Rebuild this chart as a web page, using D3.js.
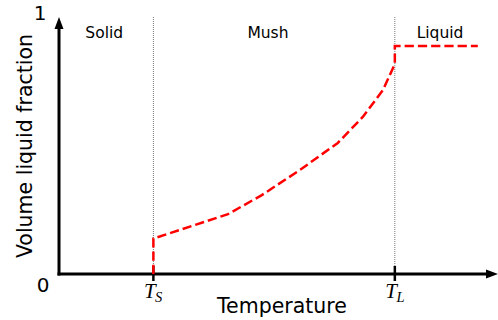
<!DOCTYPE html>
<html>
<head>
<meta charset="utf-8">
<script src="https://cdn.jsdelivr.net/npm/d3@7"></script>
<style>
  html, body { margin: 0; padding: 0; background: #fff; }
  svg { display: block; }
</style>
</head>
<body>
<script>
// ---- data ----
const temperature = [21.5, 21.5, 38.5, 46.2, 54.9, 63.5, 69.2, 73.8, 76.5, 76.5, 95.4];
const liquidFraction = [0, 0.138, 0.233, 0.307, 0.405, 0.510, 0.611, 0.716, 0.817, 0.887, 0.887];
const criticalTemps = [21.5, 76.5];
const criticalLabels = ["S", "L"];           // subscripts of T
const regionNames = ["Solid", "Mush", "Liquid"];
const regionCenters = [10.3, 47.6, 86.8];
const yTickValues = [0, 1];
const yTickLabels = ["0", "1"];

const W = 498, H = 320;
const svg = d3.select("body").append("svg").attr("width", W).attr("height", H);

const x = d3.scaleLinear().domain([0, 100]).range([59, 498]);
const y = d3.scaleLinear().domain([0, 1]).range([274, 17]);

const font = "'DejaVu Sans', sans-serif";

// dotted region boundaries
svg.selectAll("line.bound").data(criticalTemps).enter().append("line")
  .attr("class", "bound")
  .attr("x1", d => x(d)).attr("x2", d => x(d))
  .attr("y1", y(1)).attr("y2", y(0))
  .attr("stroke", "#777").attr("stroke-width", 1)
  .attr("stroke-dasharray", "1,1");

// axes
const ax = svg.append("g");
ax.append("line")
  .attr("x1", x(0)).attr("x2", x(0))
  .attr("y1", y(0) + 1.5).attr("y2", y(1) + 6)
  .attr("stroke", "#000").attr("stroke-width", 3);
ax.append("line")
  .attr("x1", x(0) - 1.5).attr("x2", x(100) - 6)
  .attr("y1", y(0)).attr("y2", y(0))
  .attr("stroke", "#000").attr("stroke-width", 3);
// arrow heads
ax.append("path")
  .attr("d", `M${x(0)},${y(1)} L${x(0) - 4.5},${y(1) + 12} L${x(0) + 4.5},${y(1) + 12} Z`)
  .attr("fill", "#000");
ax.append("path")
  .attr("d", `M${x(100)},${y(0)} L${x(100) - 12},${y(0) - 4.5} L${x(100) - 12},${y(0) + 4.5} Z`)
  .attr("fill", "#000");

// ticks at T_S, T_L
svg.selectAll("line.tick").data(criticalTemps).enter().append("line")
  .attr("x1", d => x(d)).attr("x2", d => x(d))
  .attr("y1", y(0) - 8).attr("y2", y(0) + 7)
  .attr("stroke", "#000").attr("stroke-width", 2.5);

// curve
const pts = temperature.map((t, i) => [t, liquidFraction[i]]);
svg.append("path")
  .attr("d", d3.line().x(d => x(d[0])).y(d => y(d[1]))(pts))
  .attr("fill", "none")
  .attr("stroke", "#ff0000")
  .attr("stroke-width", 2.5)
  .attr("stroke-dasharray", "9.25,4");

// T labels
const tl = svg.selectAll("text.tl").data(criticalTemps).enter().append("text")
  .attr("x", (d, i) => x(d) - 9.5)
  .attr("y", y(0) + 24)
  .attr("font-family", "'Liberation Serif', serif")
  .attr("font-style", "italic")
  .attr("font-size", 21);
tl.append("tspan").text("T");
tl.append("tspan").text((d, i) => criticalLabels[i])
  .attr("font-size", 14.5).attr("dy", 3.5).attr("dx", -0.5);

// y tick labels
svg.selectAll("text.ytick").data(yTickValues).enter().append("text")
  .attr("x", (d, i) => i === 0 ? 43 : 40)
  .attr("y", d => d === 0 ? y(d) + 18 : y(d) + 3)
  .attr("text-anchor", "middle")
  .attr("font-family", font).attr("font-size", 20)
  .text((d, i) => yTickLabels[i]);

// region labels
svg.selectAll("text.region").data(regionNames).enter().append("text")
  .attr("x", (d, i) => x(regionCenters[i]))
  .attr("y", 38)
  .attr("text-anchor", "middle")
  .attr("font-family", font).attr("font-size", 15.5)
  .text(d => d);

// axis titles
svg.append("text")
  .attr("x", 282).attr("y", 313)
  .attr("text-anchor", "middle")
  .attr("font-family", font).attr("font-size", 20.5)
  .text("Temperature");
svg.append("text")
  .attr("transform", "translate(32,146) rotate(-90)")
  .attr("text-anchor", "middle")
  .attr("font-family", font).attr("font-size", 20.5)
  .text("Volume liquid fraction");
</script>
</body>
</html>
